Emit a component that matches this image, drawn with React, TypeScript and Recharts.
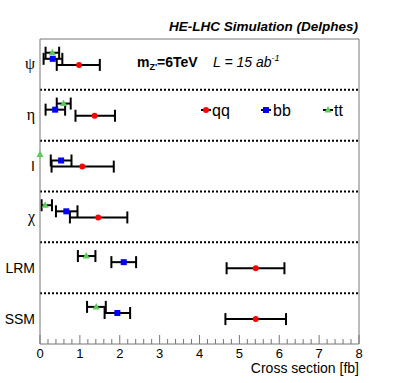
import { ScatterChart, Scatter, XAxis, YAxis, ErrorBar, ReferenceLine } from "recharts";

const categories = ["ψ", "η", "I", "χ", "LRM", "SSM"];
const majorTicks = [0, 1, 2, 3, 4, 5, 6, 7, 8];

// central values and error bar ends (fb), one entry per category
const qqValues = [0.98, 1.37, 1.06, 1.46, 5.41, 5.41];
const qqLow = [0.42, 0.89, 0.29, 0.75, 4.68, 4.65];
const qqHigh = [1.5, 1.88, 1.85, 2.19, 6.13, 6.17];

const bbValues = [0.32, 0.38, 0.53, 0.66, 2.1, 1.94];
const bbLow = [0.09, 0.14, 0.27, 0.4, 1.79, 1.62];
const bbHigh = [0.56, 0.63, 0.79, 0.94, 2.41, 2.26];

const ttValues = [0.31, 0.59, 0.0, 0.13, 1.16, 1.41];
const ttLow = [0.14, 0.42, 0.0, 0.04, 0.95, 1.18];
const ttHigh = [0.48, 0.77, 0.0, 0.3, 1.39, 1.65];

const FONT = "'Liberation Sans', Arial, sans-serif";
const GREEK = "'Liberation Serif', 'DejaVu Serif', serif";

const W = 399;
const H = 383;

const buildRows = (values, low, high, offset) =>
    values.map((v, i) => {
        const lo = v - low[i];
        const hi = high[i] - v;
        return {
            name: categories[i],
            x: v,
            y: i + offset,
            err: lo === 0 && hi === 0 ? null : [lo, hi],
        };
    });

const series = [
    { key: "qq", label: "qq", color: "#ff0000", marker: "circle", data: buildRows(qqValues, qqLow, qqHigh, 0.51) },
    { key: "bb", label: "bb", color: "#0000ff", marker: "square", data: buildRows(bbValues, bbLow, bbHigh, 0.39) },
    { key: "tt", label: "tt", color: "#5ccc5c", marker: "triangle", data: buildRows(ttValues, ttLow, ttHigh, 0.27) },
];

// minor ticks every 0.2 between the major ones
const allTicks = majorTicks.flatMap((t, i) =>
    i === majorTicks.length - 1 ? [t] : [0, 1, 2, 3, 4].map((k) => Math.round((t + k * 0.2) * 10) / 10)
);

const Marker = ({ cx, cy, kind, color }) => {
    if (cx == null || cy == null) return null;
    if (kind === "circle") return <circle cx={cx} cy={cy} r={3} fill={color} />;
    if (kind === "square") return <rect x={cx - 3} y={cy - 3} width={6} height={6} fill={color} />;
    return <polygon points={`${cx},${cy - 4} ${cx - 3.5},${cy + 2.5} ${cx + 3.5},${cy + 2.5}`} fill={color} />;
};

const XTick = ({ x, y, payload }) => {
    const v = payload.value;
    const major = Number.isInteger(v);
    return (
        <g>
            <line x1={x} x2={x} y1={y} y2={y - (major ? 9 : 5)} stroke="#777" strokeWidth={1} />
            {major && (
                <text x={x} y={y + 14} textAnchor="middle" fontFamily={FONT} fontSize={13} fill="#000">
                    {v}
                </text>
            )}
        </g>
    );
};

const YTick = ({ x, y, payload }) => {
    const label = categories[Math.floor(payload.value)];
    const greek = /[ψηχ]/.test(label);
    return (
        <text x={x} y={y + 5} textAnchor="end" fontFamily={greek ? GREEK : FONT} fontSize={greek ? 16 : 14} fill="#000">
            {label}
        </text>
    );
};

const legendPos = [
    { mx: 206, tx: 212 },
    { mx: 266, tx: 273 },
    { mx: 328, tx: 334 },
];

export default function App() {
    return (
        <div style={{ position: "absolute", left: 0, top: 0, width: W, height: H, background: "#fff" }}>
            <ScatterChart width={W} height={H} margin={{ top: 39, right: 40, left: 0, bottom: 0 }}>
                <XAxis
                    type="number"
                    dataKey="x"
                    domain={[0, 8]}
                    ticks={allTicks}
                    interval={0}
                    height={39}
                    tickSize={0}
                    tickMargin={0}
                    tickLine={false}
                    axisLine={{ stroke: "#777" }}
                    tick={<XTick />}
                />
                <YAxis
                    type="number"
                    dataKey="y"
                    domain={[0, 6]}
                    reversed
                    ticks={[0.5, 1.5, 2.5, 3.5, 4.5, 5.5]}
                    interval={0}
                    width={40}
                    tickSize={0}
                    tickMargin={5}
                    tickLine={false}
                    axisLine={{ stroke: "#777" }}
                    tick={<YTick />}
                />
                <ReferenceLine y={0} stroke="#777" />
                <ReferenceLine x={8} stroke="#777" />
                {[1, 2, 3, 4, 5].map((b) => (
                    <ReferenceLine key={b} y={b} stroke="#000" strokeWidth={2} strokeDasharray="2 2" />
                ))}
                {series.map((s) => (
                    <Scatter
                        key={s.key}
                        name={s.label}
                        data={s.data}
                        isAnimationActive={false}
                        shape={(p) => <Marker cx={p.cx} cy={p.cy} kind={s.marker} color={s.color} />}
                    >
                        <ErrorBar dataKey="err" direction="x" width={6} stroke="#000" strokeWidth={2} />
                    </Scatter>
                ))}
            </ScatterChart>
            <svg width={W} height={H} style={{ position: "absolute", left: 0, top: 0, pointerEvents: "none" }}>
                <text x={358} y={31} textAnchor="end" fontFamily={FONT} fontSize={13.5} fontWeight="bold" fontStyle="italic">
                    HE-LHC Simulation (Delphes)
                </text>
                <text x={137} y={67} fontFamily={FONT} fontSize={14} fontWeight="bold">
                    m
                    <tspan fontSize={9} dy={3}>Z'</tspan>
                    <tspan dy={-3}>=6TeV</tspan>
                </text>
                <text x={213} y={67} fontFamily={FONT} fontSize={14} fontStyle="italic">
                    L = 15 ab
                    <tspan fontSize={9} dy={-6}>-1</tspan>
                </text>
                {series.map((s, i) => (
                    <g key={s.key}>
                        <line x1={legendPos[i].mx - 5} x2={legendPos[i].mx + 5} y1={110} y2={110} stroke="#000" strokeWidth={2} />
                        <Marker cx={legendPos[i].mx} cy={110} kind={s.marker} color={s.color} />
                        <text x={legendPos[i].tx} y={115.5} fontFamily={FONT} fontSize={16}>
                            {s.label}
                        </text>
                    </g>
                ))}
                <text x={359} y={373} textAnchor="end" fontFamily={FONT} fontSize={14}>
                    Cross section [fb]
                </text>
            </svg>
        </div>
    );
}
